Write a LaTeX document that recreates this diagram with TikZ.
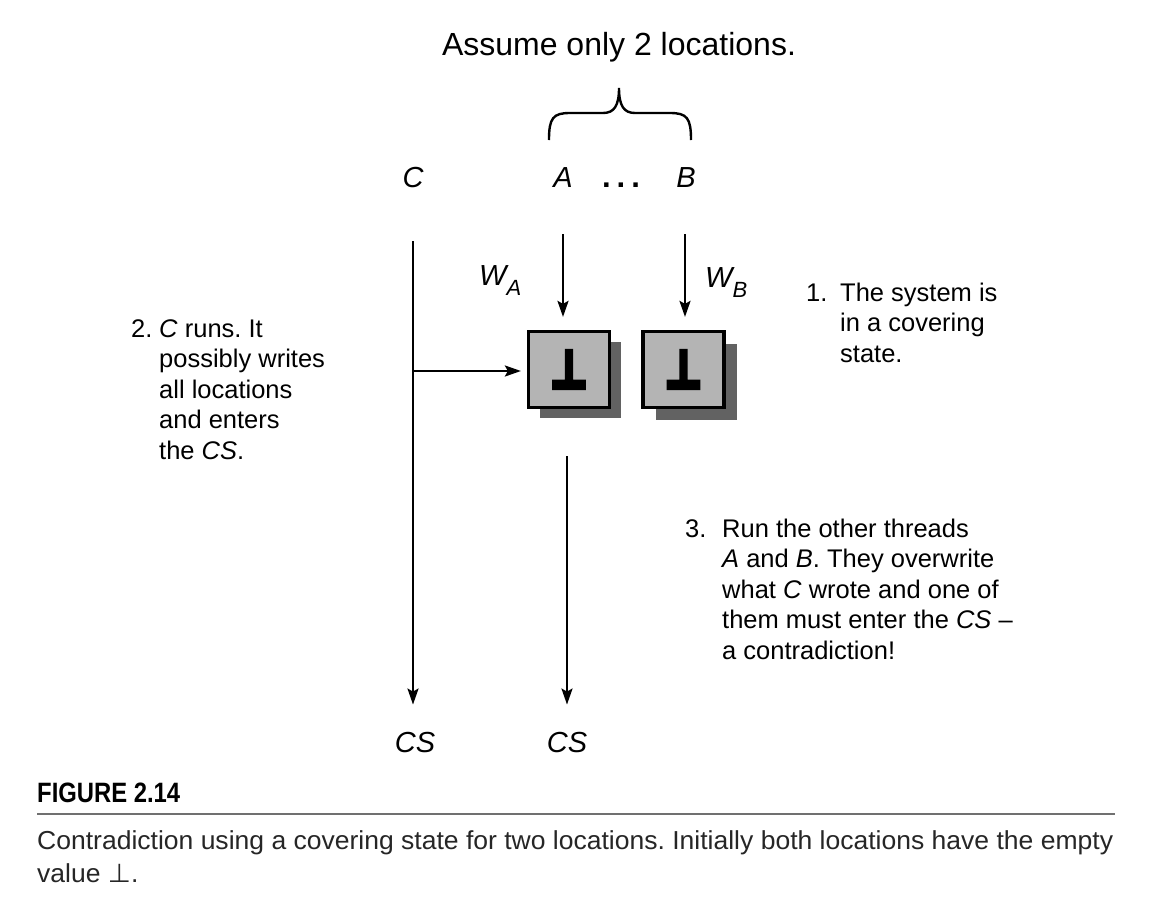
\documentclass[tikz,border=0pt]{standalone}
\usepackage{fontspec}
\usepackage{graphicx}
\setmainfont{Liberation Sans}
\newfontfamily\symfont{DejaVu Sans}
\newfontfamily\symbold[FakeBold=10]{DejaVu Sans Bold}
\usetikzlibrary{arrows.meta,shadows}
\definecolor{boxgray}{HTML}{B4B4B4}
\definecolor{shadowgray}{HTML}{626262}
\definecolor{captext}{HTML}{262626}
\definecolor{rulegray}{HTML}{707070}
\newlength\capw
\newlength\figw
\frenchspacing
\begin{document}
\frenchspacing
\settowidth{\capw}{\fontsize{26}{30}\selectfont Contradiction using a covering state for two locations. Initially both locations have the empty}
\settowidth{\figw}{\fontsize{28}{30}\selectfont\bfseries FIGURE 2.14}
\begin{tikzpicture}[x=1pt,y=-1pt,
  lab/.style={font=\fontsize{29}{34}\selectfont\itshape, inner sep=0},
  body/.style={font=\fontsize{25.5}{30.5}\selectfont, inner sep=0, anchor=base west},
  arr/.style={line width=2.4pt, -{Stealth[length=16pt,width=11pt,inset=3pt]}},
  mem/.style={draw, line width=3.2pt, fill=boxgray, minimum width=81pt, minimum height=76pt,
    inner sep=0, font=\symbold\fontsize{42}{42}\selectfont},
  capt/.style={inner sep=0, anchor=base west, text=captext}
]
\useasboundingbox (0,0) rectangle (1176,908);
\fill[white] (0,0) rectangle (1176,908);

% title
\node[anchor=base, inner sep=0, font=\fontsize{32}{38}\selectfont] (title) at (619,55) {Assume only 2 locations.};

% brace
\draw[line width=2.4pt] (549,140) .. controls (549,118) and (553,113) .. (570,113) -- (603,113)
  .. controls (614,113) and (619,106) .. (619,88)
  .. controls (619,106) and (624,113) .. (635,113) -- (670,113)
  .. controls (687,113) and (691,118) .. (691,140);

% thread labels
\node[lab, anchor=base] (C) at (413,187) {C};
\node[lab, anchor=base] (A) at (563,187) {A};
\node[anchor=base, inner sep=0, font=\fontsize{31}{34}\bfseries\selectfont] (dots) at (621,187) {.\hspace{6pt}.\hspace{6pt}.};
\node[lab, anchor=base] (B) at (686,187) {B};

% memory boxes
\node[mem, drop shadow={shadow xshift=11pt, shadow yshift=-10pt, fill=shadowgray, opacity=1}] (boxA) at (569,369.5) {\scalebox{0.95}[1.22]{⊥}};
\node[mem, drop shadow={shadow xshift=13pt, shadow yshift=-12pt, fill=shadowgray, opacity=1}] (boxB) at (683.5,369.5) {\scalebox{0.95}[1.22]{⊥}};

% CS labels
\node[lab, anchor=base] (csC) at (415,752) {CS};
\node[lab, anchor=base] (csA) at (567,752) {CS};

% write labels
\node[inner sep=0, anchor=base west, font=\fontsize{29}{34}\selectfont\itshape] (WA) at (479,285)
  {W\raisebox{-10pt}{\fontsize{22}{24}\selectfont A}};
\node[inner sep=0, anchor=base west, font=\fontsize{29}{34}\selectfont\itshape] (WB) at (705,287)
  {W\raisebox{-10pt}{\fontsize{22}{24}\selectfont B}};

% connectors
\coordinate (Ctop) at (413,241);
\coordinate (Cmid) at (413,371);
\coordinate (Atop) at (563,234);
\coordinate (Btop) at (685,234);
\coordinate (Abot) at (567,456);
\draw[arr, shorten >=27pt] (Ctop) -- (Ctop |- csC.north);
\draw[arr, shorten >=6pt] (Cmid) -- (Cmid -| boxA.west);
\draw[arr, shorten >=13pt] (Atop) -- (Atop |- boxA.north);
\draw[arr, shorten >=13pt] (Btop) -- (Btop |- boxB.north);
\draw[arr, shorten >=27pt] (Abot) -- (Abot |- csA.north);

% annotations
\node[body] (n1) at (806,301) {\begin{tabular}[t]{@{}l@{}}\makebox[34pt][l]{1.}The system is\\
  \hspace{34pt}in a covering\\ \hspace{34pt}state.\end{tabular}};
\node[body] (n2) at (131,337) {\begin{tabular}[t]{@{}l@{}}\makebox[28pt][l]{2.}\textit{C} runs. It\\
  \hspace{28pt}possibly writes\\ \hspace{28pt}all locations\\ \hspace{28pt}and enters\\
  \hspace{28pt}the \textit{CS}.\end{tabular}};
\node[body] (n3) at (685,537) {\begin{tabular}[t]{@{}l@{}}\makebox[37pt][l]{3.}Run the other threads\\
  \hspace{37pt}\textit{A} and \textit{B}. They overwrite\\ \hspace{37pt}what \textit{C} wrote and one of\\
  \hspace{37pt}them must enter the \textit{CS} --\\ \hspace{37pt}a contradiction!\end{tabular}};

% caption
\pgfmathsetmacro\capf{1076pt/\capw}
\pgfmathsetmacro\figf{143pt/\figw}
\node[capt, text=black, font=\fontsize{28}{30}\selectfont\bfseries] (fig) at (37,802) {\scalebox{\figf}[1]{FIGURE 2.14}};
\draw[rulegray, line width=2pt] (37,814) -- (1115,814);
\node[capt, font=\fontsize{26}{30}\selectfont] (cap1) at (37,849) {\scalebox{\capf}[1]{Contradiction using a covering state for two locations. Initially both locations have the empty}};
\node[capt, font=\fontsize{26}{30}\selectfont] (cap2) at (37,882) {\scalebox{\capf}[1]{value {\symfont ⊥}.}};
\end{tikzpicture}
\end{document}
